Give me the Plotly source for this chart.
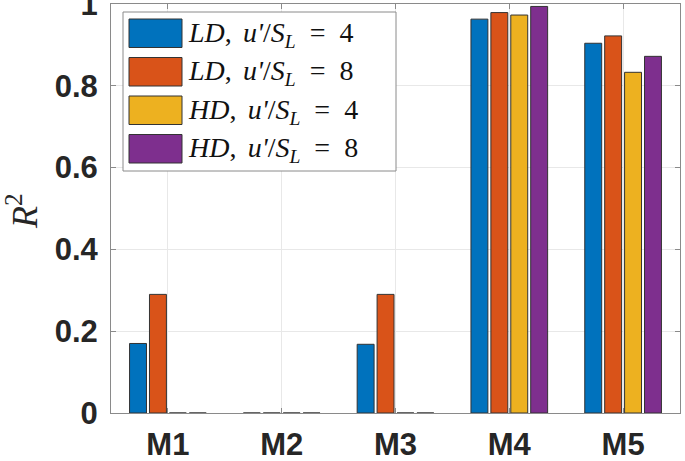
import plotly.graph_objects as go

categories = ["M1", "M2", "M3", "M4", "M5"]
series_names = [
    "<i>LD</i>,\u2009\u2009<i>u'</i>/<i>S</i><sub><i>L</i></sub>\u2002=\u20024",
    "<i>LD</i>,\u2009\u2009<i>u'</i>/<i>S</i><sub><i>L</i></sub>\u2002=\u20028",
    "<i>HD</i>,\u2009\u2009<i>u'</i>/<i>S</i><sub><i>L</i></sub>\u2002=\u20024",
    "<i>HD</i>,\u2009\u2009<i>u'</i>/<i>S</i><sub><i>L</i></sub>\u2002=\u20028",
]
ld4 = [0.17, 0.0, 0.168, 0.963, 0.904]
ld8 = [0.29, 0.0, 0.29, 0.979, 0.922]
hd4 = [0.0, 0.0, 0.0, 0.973, 0.833]
hd8 = [0.0, 0.0, 0.0, 0.994, 0.872]
series_values = [ld4, ld8, hd4, hd8]
colors = ["#0072BD", "#D95319", "#EDB120", "#7E2F8E"]
y_ticks = [0, 0.2, 0.4, 0.6, 0.8, 1]
y_ticklabels = ["0", "0.2", "0.4", "0.6", "0.8", "1"]
y_title = "<i>R</i><sup>2</sup>"

fig = go.Figure()
for name, vals, col in zip(series_names, series_values, colors):
    fig.add_trace(go.Bar(
        x=categories, y=vals, name=name,
        marker=dict(color=col, line=dict(color="#333333", width=1)),
        showlegend=False,
    ))

W, H = 685, 461
ml, mr, mt, mb = 111, 5, 4, 48

fig.update_layout(
    width=W, height=H,
    margin=dict(l=ml, r=mr, t=mt, b=mb),
    paper_bgcolor="white", plot_bgcolor="white",
    barmode="group", bargap=0.3, bargroupgap=0.15,
    font=dict(family="Liberation Sans, Arial", color="#262626"),
)
tickfont = dict(size=31, family="Liberation Sans, Arial", weight="bold", color="#262626")
fig.update_xaxes(
    range=[-0.5, 4.5], automargin=False,
    showline=True, linecolor="#8a8a8a", linewidth=1, mirror="ticks",
    ticks="inside", ticklen=5, tickcolor="#8a8a8a",
    showgrid=True, gridcolor="#e8e8e8",
    tickfont=tickfont, ticklabelstandoff=4,
)
fig.update_yaxes(
    range=[0, 1], tickvals=y_ticks, ticktext=y_ticklabels, automargin=False,
    ticklabeloverflow="allow",
    showline=True, linecolor="#8a8a8a", linewidth=1, mirror="ticks",
    ticks="inside", ticklen=5, tickcolor="#8a8a8a",
    showgrid=True, gridcolor="#e8e8e8", zeroline=False,
    tickfont=tickfont, ticklabelstandoff=6,
)

pw = W - ml - mr
ph = H - mt - mb
def px_x(p):
    return (p - ml) / pw
def px_y(p):
    return 1 - (p - mt) / ph

# y-axis title
fig.add_annotation(xref="paper", yref="paper", x=px_x(23), y=px_y(211),
                   xanchor="center", yanchor="middle", showarrow=False, textangle=-90,
                   text=y_title, borderpad=0,
                   font=dict(size=36, family="Liberation Serif, DejaVu Serif", color="#262626"))

# custom MATLAB-style legend (paper coordinates)
box = dict(x0=123, y0=12, x1=396, y1=171)
fig.add_shape(type="rect", xref="paper", yref="paper",
              x0=px_x(box["x0"]), x1=px_x(box["x1"]), y0=px_y(box["y1"]), y1=px_y(box["y0"]),
              line=dict(color="#8a8a8a", width=1), fillcolor="white", layer="above")
row0, pitch = 19, 38.5
for i, (name, col) in enumerate(zip(series_names, colors)):
    top = row0 + i * pitch
    fig.add_shape(type="rect", xref="paper", yref="paper",
                  x0=px_x(129), x1=px_x(182), y0=px_y(top + 28.5), y1=px_y(top),
                  line=dict(color="#333333", width=1), fillcolor=col, layer="above")
    fig.add_annotation(xref="paper", yref="paper", x=px_x(186), y=px_y(top + 15),
                       xanchor="left", yanchor="middle", showarrow=False, text=name,
                       font=dict(size=28, family="Liberation Serif, DejaVu Serif", color="#111111"))

fig.write_html("out.html", config={"displayModeBar": False})

with open("out.html", "r", encoding="utf-8") as f:
    html = f.read()
html = html.replace("<head>", "<head><style>html,body{margin:0;padding:0;overflow:hidden;}</style>", 1)
with open("out.html", "w", encoding="utf-8") as f:
    f.write(html)
